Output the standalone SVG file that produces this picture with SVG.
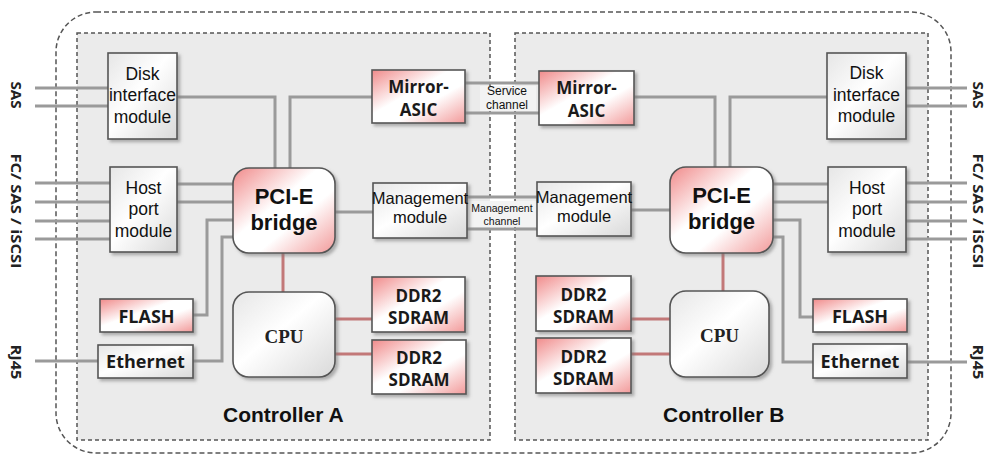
<svg xmlns="http://www.w3.org/2000/svg" width="988" height="456" viewBox="0 0 988 456">
  <style>
    .frame { fill: none; stroke: #555; stroke-width: 1.5; stroke-dasharray: 5 3; }
    .ctrl { fill: #ebebeb; stroke: #555; stroke-width: 1.5; stroke-dasharray: 4 3; }
    .wire { fill: none; stroke: #9a9a9a; stroke-width: 3; }
    .wire-red { fill: none; stroke: #c27878; stroke-width: 3; }
    .box { stroke: #555; stroke-width: 1.6; filter: url(#shadow); }
    .plain { fill: url(#gWhite); }
    .pink { fill: url(#gPink); }
    .t { font-family: "Liberation Sans", Arial, sans-serif; fill: #111; text-anchor: middle; }
    .tb { font-family: "Open Sans", "Liberation Sans", sans-serif; font-weight: bold; fill: #1a1a1a; text-anchor: middle; }
    .big { font-family: "Liberation Sans", Arial, sans-serif; font-weight: bold; font-size: 22px; fill: #111; text-anchor: middle; }
    .cpu { font-family: "Liberation Serif", "Times New Roman", serif; font-weight: bold; font-size: 19px; fill: #222; text-anchor: middle; }
    .side { font-family: "Open Sans", "Liberation Sans", sans-serif; font-weight: bold; font-size: 14px; fill: #222; text-anchor: middle; dominant-baseline: central; }
    .title { font-family: "Liberation Sans", Arial, sans-serif; font-weight: bold; font-size: 21px; fill: #111; }
  </style>
  <defs>
    <linearGradient id="gPink" x1="0" y1="0" x2="1" y2="1">
      <stop offset="0" stop-color="#f08a8a"/>
      <stop offset="0.42" stop-color="#ffffff"/>
      <stop offset="0.62" stop-color="#ffffff"/>
      <stop offset="1" stop-color="#f29a9a"/>
    </linearGradient>
    <linearGradient id="gWhite" x1="0" y1="0" x2="1" y2="1">
      <stop offset="0" stop-color="#e6e6e6"/>
      <stop offset="0.45" stop-color="#ffffff"/>
      <stop offset="1" stop-color="#d9d9d9"/>
    </linearGradient>
    <filter id="shadow" x="-10%" y="-10%" width="130%" height="130%">
      <feDropShadow dx="2.5" dy="2.5" stdDeviation="1.5" flood-color="#777" flood-opacity="0.55"/>
    </filter>
  </defs>

  <rect width="988" height="456" fill="#ffffff"/>

  <!-- enclosure and the two controller areas -->
  <rect class="frame" x="56" y="12" width="895" height="441" rx="40"/>
  <rect id="controllerA" class="ctrl" x="77" y="33" width="413" height="407"/>
  <rect id="controllerB" class="ctrl" x="515" y="33" width="413" height="407"/>

  <!-- connectors -->
  <g id="connectors">
    <!-- controller A external ports -->
    <path class="wire" d="M35 88H108M35 106H108"/>
    <path class="wire" d="M35 183H110M35 202H110M35 221H110M35 239H110"/>
    <path class="wire" d="M35 361H98"/>
    <!-- controller A internal -->
    <path class="wire" d="M177 97H275V168"/>
    <path class="wire" d="M372 97H290V168"/>
    <path class="wire" d="M177 184H233M177 202H233"/>
    <path class="wire" d="M193 315H207V220H233"/>
    <path class="wire" d="M193 361H222V237H233"/>
    <path class="wire" d="M335 212H373"/>
    <path class="wire-red" d="M283 253V292"/>
    <path class="wire-red" d="M335 319H372M335 354H372"/>
    <!-- inter-controller channels -->
    <path class="wire" d="M465 83H539M465 113H539"/>
    <path class="wire" d="M467 197H537M467 229H537"/>
    <!-- controller B internal -->
    <path class="wire" d="M634 97H715V167"/>
    <path class="wire" d="M827 97H730V167"/>
    <path class="wire" d="M631 210H670"/>
    <path class="wire" d="M773 184H828M773 202H828"/>
    <path class="wire" d="M773 220H800V317H813"/>
    <path class="wire" d="M773 237H783V362H813"/>
    <path class="wire-red" d="M723 253V291"/>
    <path class="wire-red" d="M631 319H670M631 354H670"/>
    <!-- controller B external ports -->
    <path class="wire" d="M906 88H967M906 106H967"/>
    <path class="wire" d="M906 183H967M906 202H967M906 221H967M906 239H967"/>
    <path class="wire" d="M907 362H967"/>
  </g>

  <!-- channel labels -->
  <g id="serviceChannel">
    <rect x="480" y="86" width="56" height="25" fill="#f3f3f3"/>
    <text class="t" x="507" y="95" font-size="12">Service</text>
    <text class="t" x="507" y="109" font-size="12">channel</text>
  </g>
  <g id="managementChannel">
    <rect x="468" y="201" width="68" height="26" fill="#f3f3f3"/>
    <text class="t" x="502" y="212" font-size="10.5">Management</text>
    <text class="t" x="502" y="225" font-size="10.5">channel</text>
  </g>

  <!-- controller A nodes -->
  <g id="diskA">
    <rect class="box plain" x="108" y="53" width="69" height="86"/>
    <text class="t" font-size="17.5"><tspan x="142.5" y="80">Disk</tspan><tspan x="142.5" y="101">interface</tspan><tspan x="142.5" y="123">module</tspan></text>
  </g>
  <g id="hostA">
    <rect class="box plain" x="110" y="167" width="67" height="85"/>
    <text class="t" font-size="17.5"><tspan x="143.5" y="194">Host</tspan><tspan x="143.5" y="215">port</tspan><tspan x="143.5" y="237">module</tspan></text>
  </g>
  <g id="pcieA">
    <rect class="box pink" x="233" y="168" width="102" height="85" rx="16" stroke-width="2"/>
    <text class="big"><tspan x="284" y="204">PCI-E</tspan><tspan x="284" y="230">bridge</tspan></text>
  </g>
  <g id="mirrorA">
    <rect class="box pink" x="372" y="70" width="93" height="53"/>
    <text class="tb" font-size="17"><tspan x="418.5" y="93">Mirror-</tspan><tspan x="418.5" y="116">ASIC</tspan></text>
  </g>
  <g id="mgmtA">
    <rect class="box plain" x="373" y="183" width="94" height="55"/>
    <text class="t" font-size="16.5"><tspan x="420" y="204">Management</tspan><tspan x="420" y="223">module</tspan></text>
  </g>
  <g id="cpuA">
    <rect class="box plain" x="233" y="292" width="102" height="85" rx="16" stroke-width="2"/>
    <text class="cpu" x="284" y="343">CPU</text>
  </g>
  <g id="ddrA1">
    <rect class="box pink" x="372" y="277" width="93" height="55"/>
    <text class="tb" font-size="17"><tspan x="418.5" y="302">DDR2</tspan><tspan x="418.5" y="324">SDRAM</tspan></text>
  </g>
  <g id="ddrA2">
    <rect class="box pink" x="372" y="340" width="94" height="54"/>
    <text class="tb" font-size="17"><tspan x="419" y="364">DDR2</tspan><tspan x="419" y="386">SDRAM</tspan></text>
  </g>
  <g id="flashA">
    <rect class="box pink" x="100" y="299" width="93" height="33"/>
    <text class="tb" font-size="18" x="146.5" y="323">FLASH</text>
  </g>
  <g id="ethernetA">
    <rect class="box plain" x="98" y="345" width="95" height="33"/>
    <text class="tb" font-size="18" x="145.5" y="368">Ethernet</text>
  </g>

  <!-- controller B nodes -->
  <g id="mirrorB">
    <rect class="box pink" x="539" y="71" width="95" height="54"/>
    <text class="tb" font-size="17"><tspan x="586.5" y="94">Mirror-</tspan><tspan x="586.5" y="117">ASIC</tspan></text>
  </g>
  <g id="mgmtB">
    <rect class="box plain" x="537" y="182" width="94" height="54"/>
    <text class="t" font-size="16.5"><tspan x="584" y="203">Management</tspan><tspan x="584" y="222">module</tspan></text>
  </g>
  <g id="pcieB">
    <rect class="box pink" x="670" y="167" width="103" height="86" rx="16" stroke-width="2"/>
    <text class="big"><tspan x="721.5" y="203">PCI-E</tspan><tspan x="721.5" y="229">bridge</tspan></text>
  </g>
  <g id="diskB">
    <rect class="box plain" x="827" y="53" width="79" height="86"/>
    <text class="t" font-size="17.5"><tspan x="866.5" y="79">Disk</tspan><tspan x="866.5" y="101">interface</tspan><tspan x="866.5" y="122">module</tspan></text>
  </g>
  <g id="hostB">
    <rect class="box plain" x="828" y="167" width="78" height="85"/>
    <text class="t" font-size="17.5"><tspan x="867" y="194">Host</tspan><tspan x="867" y="215">port</tspan><tspan x="867" y="237">module</tspan></text>
  </g>
  <g id="cpuB">
    <rect class="box plain" x="670" y="291" width="99" height="86" rx="16" stroke-width="2"/>
    <text class="cpu" x="719.5" y="342">CPU</text>
  </g>
  <g id="ddrB1">
    <rect class="box pink" x="536" y="276" width="95" height="55"/>
    <text class="tb" font-size="17"><tspan x="583.5" y="301">DDR2</tspan><tspan x="583.5" y="323">SDRAM</tspan></text>
  </g>
  <g id="ddrB2">
    <rect class="box pink" x="536" y="338" width="95" height="55"/>
    <text class="tb" font-size="17"><tspan x="583.5" y="363">DDR2</tspan><tspan x="583.5" y="385">SDRAM</tspan></text>
  </g>
  <g id="flashB">
    <rect class="box pink" x="813" y="299" width="94" height="33"/>
    <text class="tb" font-size="18" x="860" y="323">FLASH</text>
  </g>
  <g id="ethernetB">
    <rect class="box plain" x="813" y="344" width="94" height="34"/>
    <text class="tb" font-size="18" x="860" y="368">Ethernet</text>
  </g>

  <!-- controller titles -->
  <text class="title" x="223" y="422">Controller A</text>
  <text class="title" x="663" y="422">Controller B</text>

  <!-- port type labels, written vertically -->
  <g id="portLabelsLeft">
    <text class="side" transform="translate(16 95) rotate(90)" textLength="27" lengthAdjust="spacingAndGlyphs">SAS</text>
    <text class="side" transform="translate(16 211) rotate(90)" textLength="115" lengthAdjust="spacingAndGlyphs">FC/ SAS / iSCSI</text>
    <text class="side" transform="translate(16 362) rotate(90)" textLength="35" lengthAdjust="spacingAndGlyphs">RJ45</text>
  </g>
  <g id="portLabelsRight">
    <text class="side" transform="translate(978 95) rotate(90)" textLength="27" lengthAdjust="spacingAndGlyphs">SAS</text>
    <text class="side" transform="translate(978 211) rotate(90)" textLength="115" lengthAdjust="spacingAndGlyphs">FC/ SAS / iSCSI</text>
    <text class="side" transform="translate(978 362) rotate(90)" textLength="35" lengthAdjust="spacingAndGlyphs">RJ45</text>
  </g>
</svg>
